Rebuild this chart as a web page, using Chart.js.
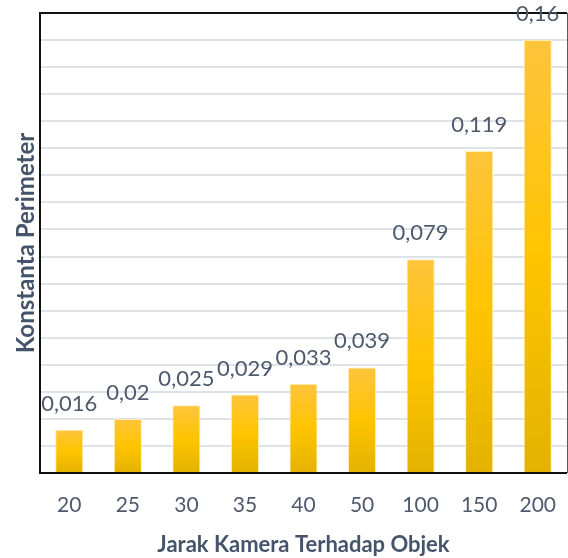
<!DOCTYPE html>
<html>
<head>
<meta charset="utf-8">
<script src="https://cdn.jsdelivr.net/npm/chart.js@4/dist/chart.umd.min.js"></script>
<style>
  html, body { margin: 0; padding: 0; background: #ffffff; }
  #wrap { width: 568px; height: 558px; }
</style>
</head>
<body>
<div id="wrap"><canvas id="chart" width="568" height="558"></canvas></div>
<script>
// Distance from camera to object (category labels)
const distances = ['20', '25', '30', '35', '40', '50', '100', '150', '200'];
// Perimeter constant measured at each distance
const perimeterConstants = [0.016, 0.02, 0.025, 0.029, 0.033, 0.039, 0.079, 0.119, 0.16];

const xTitle = 'Jarak Kamera Terhadap Objek';
const yTitle = 'Konstanta Perimeter';

const yMin = 0;
const yMax = 0.17;
const yStep = 0.01;

const textColor = '#4e5a6c';
const titleColor = '#45546a';
const fontFamily = 'Lato, "Open Sans", sans-serif';

// Vertical gradient spanning each individual bar
function barGradient(ctx) {
  const chart = ctx.chart;
  const area = chart.chartArea;
  if (!area || ctx.type !== 'data') return '#ffc000';
  const yScale = chart.scales.y;
  const top = yScale.getPixelForValue(ctx.raw);
  const bottom = yScale.getPixelForValue(0);
  const g = chart.ctx.createLinearGradient(0, top, 0, bottom);
  g.addColorStop(0, '#ffc43c');
  g.addColorStop(0.5, '#ffc400');
  g.addColorStop(1, '#e3b200');
  return g;
}

// Frame around the plot area
const framePlugin = {
  id: 'frame',
  afterDatasetsDraw(chart) {
    const { ctx, chartArea: a } = chart;
    ctx.save();
    ctx.strokeStyle = '#111111';
    ctx.lineWidth = 2;
    ctx.beginPath();
    ctx.moveTo(a.right, a.top);
    ctx.lineTo(a.left, a.top);
    ctx.lineTo(a.left, a.bottom);
    ctx.lineTo(a.right, a.bottom);
    ctx.stroke();
    ctx.strokeStyle = '#5a5a5a';
    ctx.lineWidth = 1;
    ctx.beginPath();
    ctx.moveTo(a.right + 0.5, a.top);
    ctx.lineTo(a.right + 0.5, a.bottom);
    ctx.stroke();
    ctx.restore();
  }
};

// Value labels above each bar, using a decimal comma
const valueLabelPlugin = {
  id: 'valueLabels',
  afterDraw(chart) {
    const { ctx } = chart;
    const meta = chart.getDatasetMeta(0);
    const values = chart.data.datasets[0].data;
    ctx.save();
    ctx.font = '22px ' + fontFamily;
    ctx.fillStyle = textColor;
    ctx.textAlign = 'center';
    ctx.textBaseline = 'alphabetic';
    meta.data.forEach((bar, i) => {
      const text = String(values[i]).replace('.', ',');
      ctx.fillText(text, bar.x, bar.y - 19);
    });
    ctx.restore();
  }
};

new Chart(document.getElementById('chart'), {
  type: 'bar',
  data: {
    labels: distances,
    datasets: [{
      data: perimeterConstants,
      backgroundColor: barGradient,
      borderColor: 'rgba(255, 236, 170, 0.9)',
      borderWidth: 1,
      barPercentage: 0.6,
      categoryPercentage: 0.8
    }]
  },
  options: {
    responsive: false,
    animation: false,
    devicePixelRatio: 1,
    layout: { padding: { top: 13, right: 1, left: 0, bottom: 0 } },
    plugins: {
      legend: { display: false },
      tooltip: { enabled: false }
    },
    scales: {
      x: {
        grid: { display: false, drawTicks: false },
        border: { display: false },
        ticks: {
          color: textColor,
          font: { family: fontFamily, size: 21 },
          padding: 20,
          maxRotation: 0
        },
        title: {
          display: true,
          text: xTitle,
          color: titleColor,
          font: { family: fontFamily, size: 22, weight: 'bold' },
          padding: { top: 0, bottom: 0 }
        },
        afterFit(scale) {
          scale.height = 85;
          scale.paddingLeft = 0;
          scale.paddingRight = 0;
        }
      },
      y: {
        min: yMin,
        max: yMax,
        grid: { color: '#dee2e9', lineWidth: 2, drawTicks: false },
        border: { display: false },
        ticks: { display: false, stepSize: yStep },
        title: {
          display: true,
          text: yTitle,
          color: titleColor,
          font: { family: fontFamily, size: 24, weight: 'bold' },
          padding: { top: 12, bottom: 0 }
        },
        afterFit(scale) { scale.width = 40; }
      }
    }
  },
  plugins: [framePlugin, valueLabelPlugin]
});
</script>
</body>
</html>
